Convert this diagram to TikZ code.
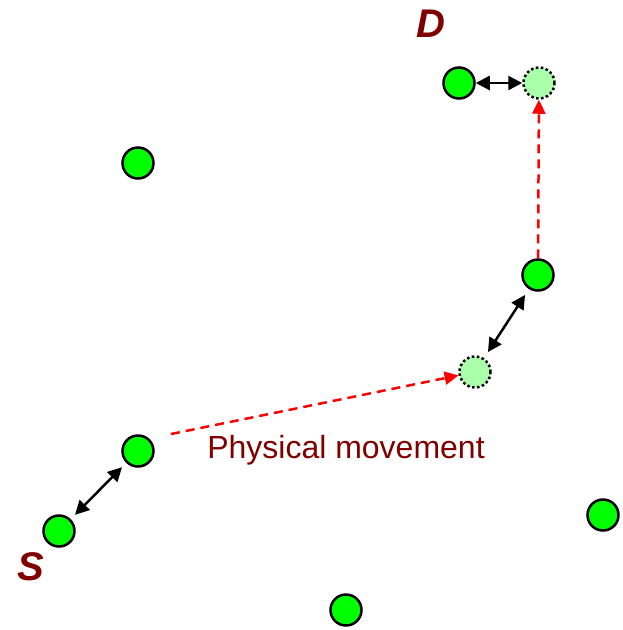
\documentclass[tikz,border=0pt]{standalone}
\usepackage{fontspec}
\setmainfont{Liberation Sans}
\usetikzlibrary{arrows.meta}
\definecolor{lblred}{HTML}{800000}
\definecolor{nodegreen}{HTML}{00FF00}
\definecolor{ghostgreen}{HTML}{AAFFAA}
\begin{document}
\begin{tikzpicture}[x=1pt,y=-1pt,
  gn/.style={circle,draw=black,line width=2.5pt,fill=nodegreen,minimum size=31pt,inner sep=0pt},
  ghost/.style={circle,draw=black,line width=2.5pt,dash pattern=on 2.5pt off 2.5pt,fill=ghostgreen,minimum size=31pt,inner sep=0pt},
  link/.style={line width=2.5pt,{Triangle[length=14pt,width=14pt]}-{Triangle[length=14pt,width=14pt]}},
  move/.style={red,line width=2.5pt,dash pattern=on 9pt off 6pt,-{Triangle[length=14pt,width=13pt]}},
  endlbl/.style={text=lblred,font=\fontsize{40}{44}\selectfont\bfseries\itshape,inner sep=0pt},
  movelbl/.style={text=lblred,font=\fontsize{32}{35}\selectfont,inner sep=0pt}]
\fill[white] (0,0) rectangle (622,630);
\useasboundingbox (0,0) rectangle (622,630);
% nodes
\node[gn] (d) at (459,83) {};
\node[ghost] (dg) at (539,83) {};
\node[gn] (n1) at (138,163) {};
\node[gn] (r) at (538,275) {};
\node[ghost] (rg) at (475,372) {};
\node[gn] (m) at (138,451) {};
\node[gn] (s) at (59,531) {};
\node[gn] (n2) at (603,515) {};
\node[gn] (n3) at (346,610) {};
\coordinate (ms) at (171,434);
% labels
\node[endlbl] (dl) at (431,24) {D};
\node[endlbl] (sl) at (31,567) {S};
\node[movelbl] (ml) at (346,450) {Physical movement};
% links
\draw[link] (d) -- (dg);
\draw[link,shorten <=7pt,shorten >=7pt] (rg) -- (r);
\draw[link,shorten <=6pt,shorten >=6pt] (s) -- (m);
% movements
\draw[move] (ms) -- (rg);
\draw[move] (r) -- (dg);
\end{tikzpicture}
\end{document}
